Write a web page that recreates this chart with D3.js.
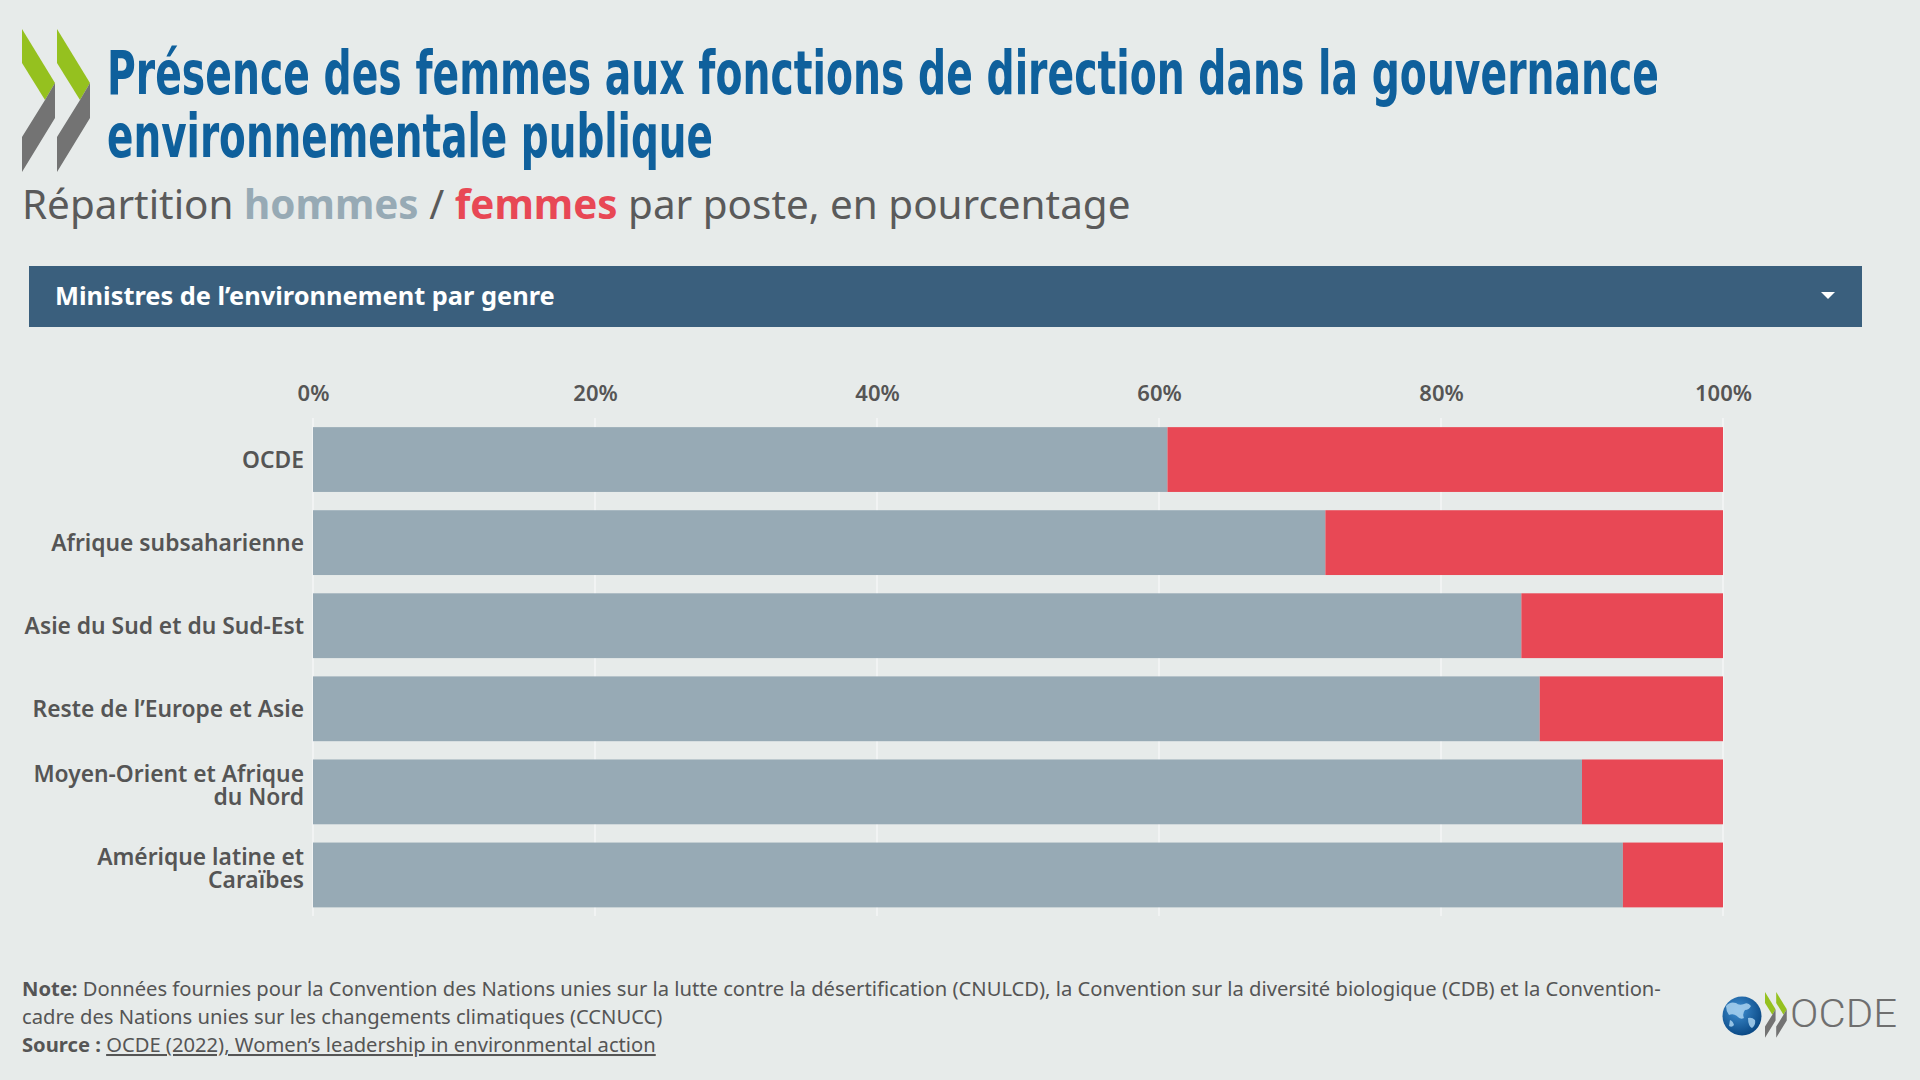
<!DOCTYPE html>
<html>
<head>
<meta charset="utf-8">
<script src="https://cdn.jsdelivr.net/npm/d3@7"></script>
<style>
  html, body { margin: 0; padding: 0; background: #e7ebea; }
  svg { display: block; }
</style>
</head>
<body>
<svg id="chart" width="1920" height="1080"></svg>
<script>
// data
const categories = ["OCDE", "Afrique subsaharienne", "Asie du Sud et du Sud-Est",
    "Reste de l’Europe et Asie", "Moyen-Orient et Afrique du Nord", "Amérique latine et Caraïbes"];
const hommes = [60.6, 71.8, 85.7, 87.0, 90.0, 92.9];
const femmes = [39.4, 28.2, 14.3, 13.0, 10.0, 7.1];
const ticks = [0, 20, 40, 60, 80, 100];

const titleLines = ["Présence des femmes aux fonctions de direction dans la gouvernance",
    "environnementale publique"];
const dropdownLabel = "Ministres de l’environnement par genre";
const noteLine1 = " Données fournies pour la Convention des Nations unies sur la lutte contre la désertification (CNULCD), la Convention sur la diversité biologique (CDB) et la Convention-";
const noteLine2 = "cadre des Nations unies sur les changements climatiques (CCNUCC)";
const sourceText = "OCDE (2022), Women’s leadership in environmental action";

const grey_col = "#97aab5";
const red_col = "#e84855";
const text_col = "#555555";

const svg = d3.select('#chart');
const sans = "'Noto Sans', 'Open Sans', sans-serif";

// oecd chevron, drawn in a 33x143 box
const chev_green = "M0,0 L33,54 L23,71 L0,34 Z";
const chev_grey = "M33,54 L33,89 L0,143 L0,108 L23,71 Z";

function draw_chevrons(g) {
    [0, 35].forEach(function(dx) {
        g.append('path').attr('d', chev_green).attr('fill', '#95c11f')
            .attr('transform', 'translate(' + dx + ',0)');
        g.append('path').attr('d', chev_grey).attr('fill', '#737373')
            .attr('transform', 'translate(' + dx + ',0)');
    });
}

draw_chevrons(svg.append('g').attr('transform', 'translate(22,29)'));

// title
const title = svg.append('text')
    .attr('font-family', "'DejaVu Sans Condensed', 'DejaVu Sans', sans-serif")
    .attr('font-weight', 'bold')
    .attr('font-size', 61)
    .attr('fill', '#0f609c');
title.append('tspan').attr('x', 107).attr('y', 94)
    .attr('textLength', 1552).attr('lengthAdjust', 'spacingAndGlyphs')
    .text(titleLines[0]);
title.append('tspan').attr('x', 107).attr('y', 157)
    .attr('textLength', 606).attr('lengthAdjust', 'spacingAndGlyphs')
    .text(titleLines[1]);

// subtitle
const sub = svg.append('text')
    .attr('x', 22).attr('y', 219)
    .attr('font-family', sans)
    .attr('font-size', 40.4)
    .attr('fill', '#5a5a5a');
sub.append('tspan').text('Répartition ');
sub.append('tspan').attr('font-weight', 'bold').attr('fill', grey_col).text('hommes');
sub.append('tspan').text(' / ');
sub.append('tspan').attr('font-weight', 'bold').attr('fill', red_col).text('femmes');
sub.append('tspan').text(' par poste, en pourcentage');

// dropdown bar
svg.append('rect')
    .attr('x', 29).attr('y', 266)
    .attr('width', 1833).attr('height', 61)
    .attr('fill', '#3a5f7d');
svg.append('text')
    .attr('x', 55).attr('y', 305)
    .attr('font-family', sans)
    .attr('font-weight', 'bold')
    .attr('font-size', 25.4)
    .attr('fill', '#ffffff')
    .text(dropdownLabel);
svg.append('path')
    .attr('d', 'M1821,292 L1835,292 L1828,299 Z')
    .attr('fill', '#ffffff');

// scales
const x = d3.scaleLinear().domain([0, 100]).range([313, 1723]);
const y = d3.scaleBand().domain(categories)
    .range([418, 916.5])
    .paddingInner(0.22)
    .paddingOuter(0.11);

// grid lines
svg.append('g').selectAll('line')
    .data(ticks)
    .join('line')
    .attr('x1', d => x(d)).attr('x2', d => x(d))
    .attr('y1', 418).attr('y2', 916)
    .attr('stroke', '#f1f3f3')
    .attr('stroke-width', 2);

// top axis labels
const axis = svg.append('g')
    .attr('transform', 'translate(0,401)')
    .call(d3.axisTop(x).tickValues(ticks).tickFormat(d => d + '%').tickSize(0).tickPadding(0));
axis.select('.domain').remove();
axis.selectAll('text')
    .attr('font-family', sans)
    .attr('font-size', 22)
    .attr('font-weight', 600)
    .attr('fill', text_col)
    .attr('dy', 0);

// stacked bars
const rows = categories.map((c, i) => ({cat: c, hommes: hommes[i], femmes: femmes[i]}));
const series = d3.stack().keys(['hommes', 'femmes'])(rows);
const colour = d3.scaleOrdinal().domain(['hommes', 'femmes']).range([grey_col, red_col]);

svg.append('g').selectAll('g')
    .data(series)
    .join('g')
    .attr('fill', d => colour(d.key))
    .selectAll('rect')
    .data(d => d)
    .join('rect')
    .attr('x', d => x(d[0]))
    .attr('y', d => y(d.data.cat))
    .attr('width', d => x(d[1]) - x(d[0]))
    .attr('height', y.bandwidth());

// category labels, wrapped
const label_g = svg.append('g')
    .attr('font-family', sans)
    .attr('font-size', 22.8)
    .attr('font-weight', 600)
    .attr('fill', text_col)
    .attr('text-anchor', 'end');

categories.forEach(function(c) {
    let t = label_g.append('text').attr('x', 304);
    let words = c.split(' ');
    let lines = [];
    let line = [];
    words.forEach(function(w) {
        line.push(w);
        t.text(line.join(' '));
        if (t.node().getComputedTextLength() > 290 && line.length > 1) {
            line.pop();
            lines.push(line.join(' '));
            line = [w];
        }
    });
    lines.push(line.join(' '));
    t.text(null);
    let cy = y(c) + y.bandwidth() / 2;
    let lh = 23;
    let shift = lines.length > 1 ? -6 : 0;
    lines.forEach(function(l, i) {
        t.append('tspan')
            .attr('x', 304)
            .attr('y', cy + 8 + shift + (i - (lines.length - 1) / 2) * lh)
            .text(l);
    });
});

// footnotes
const foot = svg.append('g')
    .attr('font-family', sans)
    .attr('font-size', 20.2)
    .attr('fill', text_col);
const n1 = foot.append('text').attr('x', 22).attr('y', 996);
n1.append('tspan').attr('font-weight', 'bold').text('Note:');
n1.append('tspan').text(noteLine1);
foot.append('text').attr('x', 22).attr('y', 1024).text(noteLine2);
const s1 = foot.append('text').attr('x', 22).attr('y', 1052);
s1.append('tspan').attr('font-weight', 'bold').text('Source : ');
s1.append('tspan').attr('text-decoration', 'underline').text(sourceText);

// OCDE logo, bottom right
const defs = svg.append('defs');
const grad = defs.append('radialGradient').attr('id', 'globe')
    .attr('cx', '40%').attr('cy', '35%').attr('r', '65%');
grad.append('stop').attr('offset', '0%').attr('stop-color', '#3f8fd2');
grad.append('stop').attr('offset', '100%').attr('stop-color', '#0b4a86');

const logo = svg.append('g');
logo.append('circle').attr('cx', 1742).attr('cy', 1016).attr('r', 19.5).attr('fill', 'url(#globe)');
// rough land masses
logo.append('path')
    .attr('d', 'M1726,1006 q4,-5 10,-3 q3,3 8,1 q4,-2 7,2 q-2,4 -6,4 q-3,4 -1,8 q-4,2 -7,-2 q-4,-3 -8,-1 q-3,-4 -3,-9 Z M1748,1018 q4,-1 7,2 q1,5 -3,8 q-4,-2 -4,-10 Z M1730,1020 q3,1 4,5 q-2,3 -5,1 Z')
    .attr('fill', '#a9d2f0').attr('opacity', 0.85);
draw_chevrons(logo.append('g').attr('transform', 'translate(1765,992) scale(0.32,0.32)'));
logo.append('text')
    .attr('x', 1790).attr('y', 1027)
    .attr('font-family', "Roboto, 'Noto Sans', sans-serif")
    .attr('font-weight', 300)
    .attr('font-size', 39)
    .attr('fill', '#6f6f6f')
    .attr('textLength', 107).attr('lengthAdjust', 'spacingAndGlyphs')
    .text('OCDE');
</script>
</body>
</html>
